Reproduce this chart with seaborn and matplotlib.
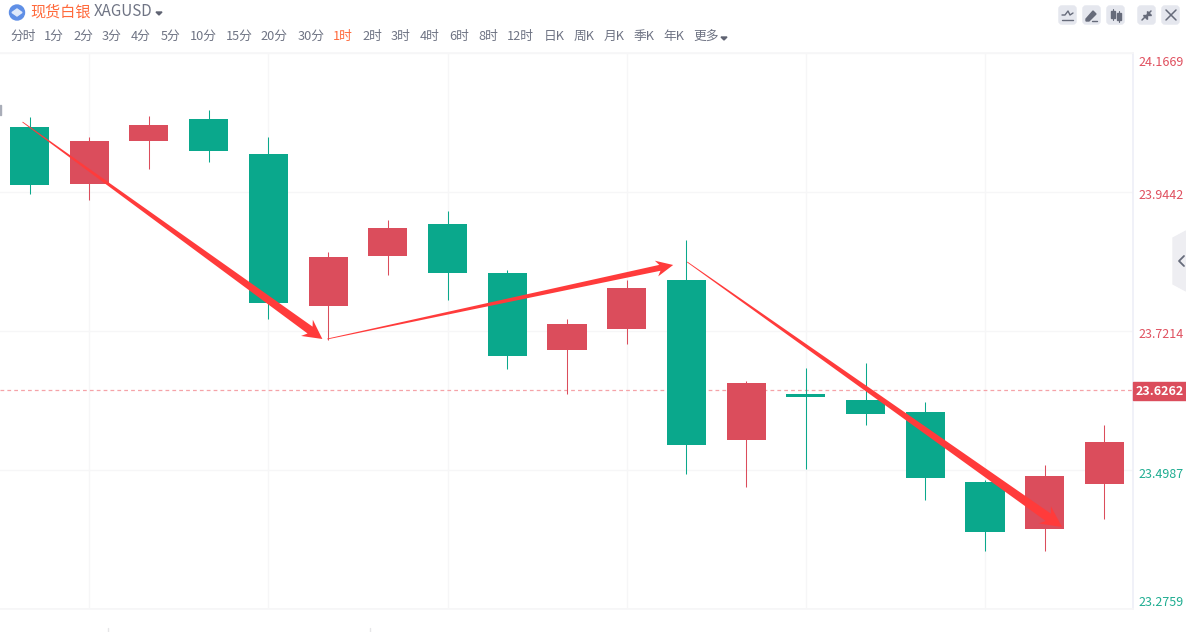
import numpy as np
import pandas as pd
import matplotlib
matplotlib.use('Agg')
import matplotlib.pyplot as plt
import seaborn as sns
from matplotlib.patches import Polygon, FancyBboxPatch, Rectangle, Circle
from matplotlib.transforms import IdentityTransform, ScaledTranslation

# candle values
body_top = [24.0483, 24.0259, 24.0515, 24.0611, 24.0051, 23.8400, 23.8865, 23.8929, 23.8144, 23.7326,
            23.7903, 23.8031, 23.6381, 23.6205, 23.6108, 23.5916, 23.4794, 23.4890, 23.5435]
body_bottom = [23.9554, 23.9570, 24.0259, 24.0099, 23.7663, 23.7615, 23.8416, 23.8144, 23.6813, 23.6910,
               23.7246, 23.5387, 23.5467, 23.6156, 23.5884, 23.4858, 23.3993, 23.4041, 23.4762]
high = [24.0643, 24.0323, 24.0659, 24.0756, 24.0323, 23.8480, 23.8993, 23.9137, 23.8192, 23.7406,
        23.8031, 23.8672, 23.6413, 23.6621, 23.6701, 23.6076, 23.4826, 23.5067, 23.5708]
low = [23.9410, 23.9313, 23.9810, 23.9922, 23.7406, 23.7070, 23.8111, 23.7711, 23.6605, 23.6205,
       23.7006, 23.4923, 23.4714, 23.5003, 23.5708, 23.4506, 23.3689, 23.3689, 23.4201]
candle_kind = ['down', 'up', 'up', 'down', 'down', 'up', 'up', 'down', 'down', 'up',
               'up', 'down', 'up', 'down', 'down', 'down', 'down', 'up', 'up']

price_ticks = [24.1669, 23.9442, 23.7214, 23.4987, 23.2759]
price_tick_labels = ['24.1669', '23.9442', '23.7214', '23.4987', '23.2759']
price_tick_colors = ['#e0505f', '#e0505f', '#e0505f', '#1fad91', '#1fad91']
price_label_shift = [8, 2, 2, 3.5, -8]
grid_candles = [1, 4, 7, 10, 13, 16]
last_price = 23.6262

# hand drawn arrows: start candle, start price, end candle, end price, shaft, head width, head length
arrow_x0 = [-0.117, 4.987, 11.013]
arrow_y0 = [24.0563, 23.7086, 23.8320]
arrow_x1 = [4.904, 10.778, 17.289]
arrow_y1 = [23.7086, 23.8272, 23.4073]
arrow_shaft = [8.5, 6.0, 9.0]
arrow_head_w = [20, 16, 21]
arrow_head_l = [19, 17, 21]

period_labels = ['分时', '1分', '2分', '3分', '4分', '5分', '10分', '15分', '20分', '30分', '1时', '2时',
                 '3时', '4时', '6时', '8时', '12时', '日K', '周K', '月K', '季K', '年K', '更多']
period_x = [23, 54, 83, 112, 141, 171, 203, 239, 274, 311, 343, 372, 401, 430, 459, 488, 520,
            554, 584, 614, 644, 674, 706]

RED = '#db4d5c'
GREEN = '#0aa88c'
ARROW = '#ff3b3b'
W, H = 1186, 632

sns.set_theme(style='white')
plt.rcParams['font.family'] = ['Noto Sans CJK SC', 'DejaVu Sans']

fig = plt.figure(figsize=(W / 100, H / 100), dpi=100, facecolor='white')
ax = fig.add_axes([0, (H - 609) / H, 1133 / W, 556 / H])

df = pd.DataFrame({'pos': np.arange(len(body_top)), 'top': body_top, 'bottom': body_bottom,
                   'high': high, 'low': low, 'kind': candle_kind})
df['height'] = df['top'] - df['bottom']
colors = {'up': RED, 'down': GREEN}

for kind, sub in df.groupby('kind'):
    ax.vlines(sub['pos'], sub['low'], sub['high'], color=colors[kind], linewidth=0.75, zorder=2)
    sns.barplot(data=sub, x='pos', y='height', bottom=sub['bottom'].values, native_scale=True,
                color=colors[kind], saturation=1, width=0.655, errorbar=None, ax=ax, zorder=3,
                linewidth=0)

ax.set_xlim(-29.5 / 59.72, (1133 - 29.5) / 59.72)
ax.set_ylim(price_ticks[-1], price_ticks[0])
ax.set_xlabel('')
ax.set_ylabel('')
ax.set_xticks(grid_candles)
ax.set_xticklabels([])
ax.yaxis.tick_right()
ax.set_yticks(price_ticks)
ax.set_yticklabels(price_tick_labels, fontsize=9)
ax.tick_params(axis='both', length=0)
ax.tick_params(axis='y', pad=4)
ax.grid(True, color='#f6f6f7', linewidth=1.0)
ax.set_axisbelow(True)
for label, col, shift in zip(ax.get_yticklabels(), price_tick_colors, price_label_shift):
    label.set_color(col)
    label.set_transform(label.get_transform() + ScaledTranslation(0, -shift / 100, fig.dpi_scale_trans))
for name in ['top', 'bottom']:
    ax.spines[name].set_color('#f6f6f7')
ax.spines['left'].set_visible(False)
ax.spines['right'].set_color('#eeeff7')
ax.axhline(last_price, color='#f5a3a8', linewidth=0.9, linestyle=(0, (3, 2.5)), zorder=1)


def add_arrow(x0, y0, x1, y1, shaft, head_w, head_l):
    """Tapered arrow, thin at the start and widest where the head begins."""
    p0 = ax.transData.transform((x0, y0))
    p1 = ax.transData.transform((x1, y1))
    d = (p1 - p0) / np.linalg.norm(p1 - p0)
    n = np.array([-d[1], d[0]])
    neck = p1 - d * head_l
    notch = p1 - d * head_l * 0.8
    pts = [p0 + n * 0.4, notch + n * shaft / 2, neck + n * head_w / 2, p1,
           neck - n * head_w / 2, notch - n * shaft / 2, p0 - n * 0.4]
    fig.add_artist(Polygon(pts, closed=True, facecolor=ARROW, edgecolor='none',
                           transform=IdentityTransform(), zorder=10))


for i in range(len(arrow_x0)):
    add_arrow(arrow_x0[i], arrow_y0[i], arrow_x1[i], arrow_y1[i],
              arrow_shaft[i], arrow_head_w[i], arrow_head_l[i])

# everything around the plot is placed in screen pixels
ui = fig.add_axes([0, 0, 1, 1], facecolor='none')
ui.set_xlim(0, W)
ui.set_ylim(H, 0)
ui.axis('off')
ui.set_zorder(5)

ui.add_patch(Circle((17, 12.5), 7.5, color='#5f8fe6'))
ui.add_patch(Polygon([(12, 12.5), (17, 9), (22, 12.5), (17, 16)], color='#dfe9fa'))
ui.text(30, 12, '现货白银', fontsize=10.9, color='#ff6a3c', va='center', ha='left')
ui.text(94, 12, 'XAGUSD', fontsize=10.9, color='#6f7484', va='center', ha='left')
ui.add_patch(Polygon([(156, 12), (162, 12), (159, 15)], color='#5f6372'))

for lab, x in zip(period_labels, period_x):
    col = '#ff6a3c' if lab == '1时' else '#6f7484'
    ui.text(x, 36.5, lab, fontsize=9.2, color=col, va='center', ha='center')
ui.add_patch(Polygon([(721, 37), (727, 37), (724, 40)], color='#5f6372'))

for x in [1058, 1082, 1106, 1137, 1161]:
    ui.add_patch(FancyBboxPatch((x + 2, 7), 15, 16, boxstyle='round,pad=0,rounding_size=2',
                                mutation_aspect=1, facecolor='#e5e7ee', edgecolor='#e5e7ee', linewidth=2.5))
icon = '#666b7a'
ui.plot([1062, 1073], [20, 20], color=icon, lw=1)
ui.plot([1062, 1065, 1068, 1070, 1073], [15, 15, 11, 15, 13], color=icon, lw=1)
ui.add_patch(Polygon([(1086, 19), (1093, 11), (1096, 14), (1089, 21), (1086, 21)], color=icon))
ui.plot([1092, 1097], [21, 21], color=icon, lw=1)
ui.add_patch(Rectangle((1111, 11), 4, 7, color=icon))
ui.add_patch(Rectangle((1117, 13), 4, 7, color=icon))
ui.plot([1113, 1113], [9, 20], color=icon, lw=0.8)
ui.plot([1119, 1119], [11, 22], color=icon, lw=0.8)
ui.plot([1142, 1146], [20, 16], color=icon, lw=1.1)
ui.plot([1147, 1151], [15, 11], color=icon, lw=1.1)
ui.add_patch(Polygon([(1143, 15), (1147, 15), (1147, 19)], color=icon))
ui.add_patch(Polygon([(1147, 11), (1147, 15), (1151, 15)], color=icon))
ui.plot([1166, 1176], [10, 20], color=icon, lw=1.1)
ui.plot([1176, 1166], [10, 20], color=icon, lw=1.1)

ui.add_patch(Polygon([(1173, 238), (1186, 231), (1186, 291), (1173, 284)], color='#eeeef2'))
ui.plot([1184, 1179, 1184], [256, 261, 266], color='#666b7a', lw=1.3)

ui.add_patch(Rectangle((1133, 382), 53, 18, color=RED, zorder=6))
ui.text(1160, 391.5, '23.6262', fontsize=9, color='white', fontweight='bold',
        va='center', ha='center', zorder=7)

ui.plot([108, 108], [628, 632], color='#e6e6e8', lw=1)
ui.plot([370, 370], [628, 632], color='#e6e6e8', lw=1)
ui.add_patch(Rectangle((0, 105), 1.2, 10, color='#a9adb8'))

fig.savefig('out.png', dpi=100)
plt.close(fig)
